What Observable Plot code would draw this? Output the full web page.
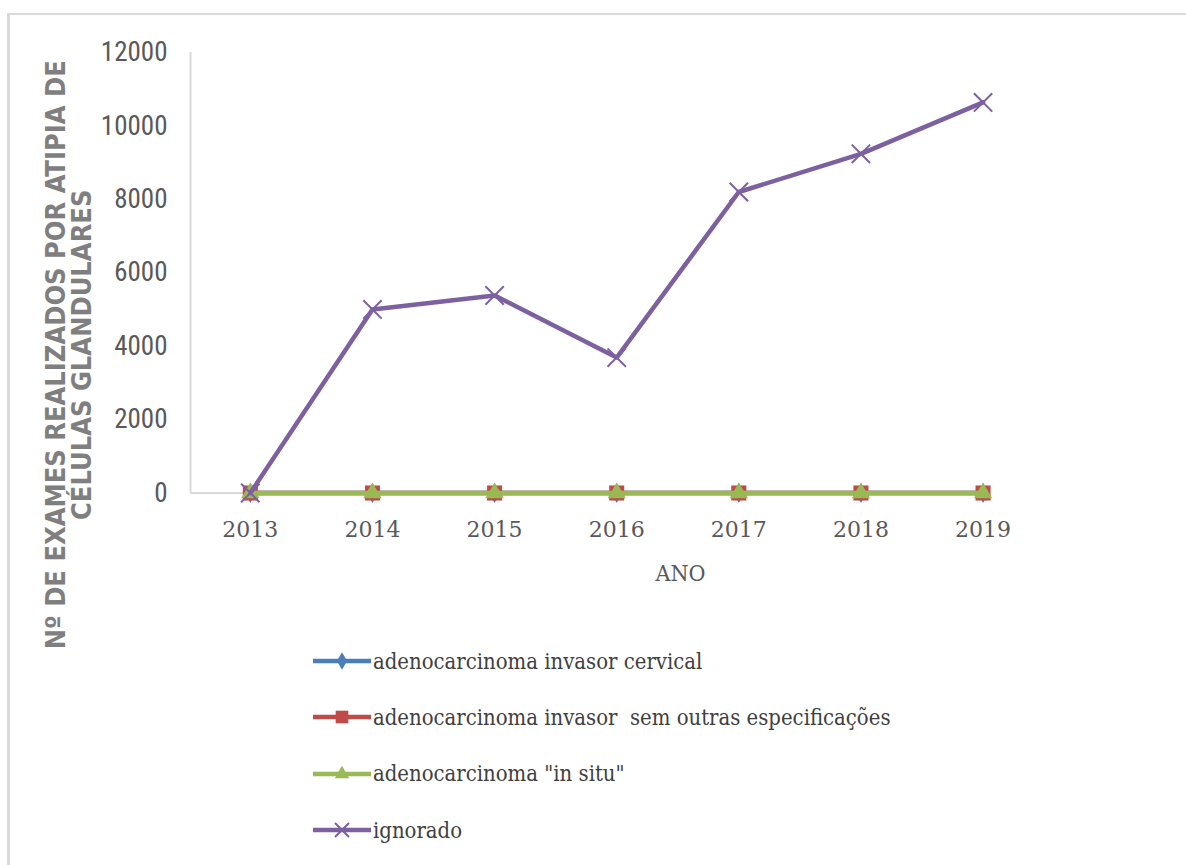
<!DOCTYPE html>
<html>
<head>
<meta charset="utf-8">
<script src="https://cdn.jsdelivr.net/npm/d3@7"></script>
<script src="https://cdn.jsdelivr.net/npm/@observablehq/plot@0.6"></script>
<style>
  html, body { margin: 0; padding: 0; background: #fff; overflow: hidden; }
  #wrap { position: relative; width: 1186px; height: 865px; }
  #border { position: absolute; left: 7px; top: 13px; width: 1200px; height: 900px;
            border-left: 3px solid #d9d9d9; border-top: 2px solid #d9d9d9; box-sizing: border-box; }
  #chart { position: absolute; left: 0; top: 0; }
  #legend { position: absolute; left: 313px; top: 633px; }
  .item { display: flex; align-items: center; height: 56.3px; }
  .item span { font-family: "DejaVu Serif Condensed", "DejaVu Serif", serif; font-size: 21.9px; color: #404040; white-space: pre; margin-left: 2px; }
</style>
</head>
<body>
<div id="wrap">
  <div id="border"></div>
  <div id="chart"></div>
  <div id="legend"></div>
</div>
<script>
const years = [2013, 2014, 2015, 2016, 2017, 2018, 2019];
const seriesNames = [
  "adenocarcinoma invasor cervical",
  "adenocarcinoma invasor  sem outras especificações",
  "adenocarcinoma \"in situ\"",
  "ignorado"
];
const cervical   = [0, 0, 0, 0, 0, 0, 0];
const semOutras  = [0, 0, 0, 0, 0, 0, 0];
const inSitu     = [0, 0, 0, 0, 0, 0, 0];
const ignorado   = [0, 5000, 5380, 3690, 8200, 9240, 10640];
const yTicks = [0, 2000, 4000, 6000, 8000, 10000, 12000];
const xDomain = [2012.51, 2019.02];
const yDomain = [0, 12000];
const colors = ["#4a7ebb", "#be4b48", "#98b954", "#7d60a0"];
const symbols = ["diamond", "square", "triangle", "times"];
const yTitle = "Nº DE EXAMES REALIZADOS POR ATIPIA DE\nCÉLULAS GLANDULARES";
const xTitle = "ANO";

const seriesValues = [cervical, semOutras, inSitu, ignorado];
const table = [];
seriesNames.forEach((s, i) => years.forEach((y, j) => table.push({series: s, year: y, value: seriesValues[i][j]})));

const markSizes = [6, 8.5, 6.8, 8.4];

const seriesMarks = [];
seriesNames.forEach((s, i) => {
  const d = table.filter(r => r.series === s);
  seriesMarks.push(Plot.line(d, {x: "year", y: "value", stroke: colors[i], strokeWidth: 4.5}));
  if (symbols[i] === "times") {
    seriesMarks.push(Plot.dot(d, {x: "year", y: "value", symbol: "times", stroke: colors[i], strokeWidth: 2, r: markSizes[i]}));
  } else {
    seriesMarks.push(Plot.dot(d, {x: "year", y: "value", symbol: symbols[i], fill: colors[i], stroke: "none", r: markSizes[i]}));
  }
});

const chart = Plot.plot({
  width: 1186,
  height: 620,
  marginLeft: 190,
  marginRight: 201,
  marginTop: 52,
  marginBottom: 127.5,
  style: {background: "transparent", overflow: "visible"},
  x: {type: "linear", domain: xDomain},
  y: {domain: yDomain},
  marks: [
    Plot.ruleX([xDomain[0]], {y1: yDomain[0], y2: yDomain[1], stroke: "#d9d9d9", strokeWidth: 2}),
    Plot.ruleY([0], {x1: xDomain[0], x2: xDomain[1], stroke: "#d9d9d9", strokeWidth: 2}),
    Plot.axisY(yTicks, {tickSize: 0, tickPadding: 23, tickFormat: d3.format("d"), label: null,
      fontSize: 27, fontFamily: "'Liberation Sans Narrow', 'Roboto Condensed', 'DejaVu Sans Condensed', sans-serif", fill: "#595959"}),
    Plot.axisX(years, {tickSize: 0, tickPadding: 28.5, tickFormat: d => String(d), label: null,
      fontSize: 22, fontFamily: "'DejaVu Serif', serif", fill: "#595959"}),
    Plot.text([yTitle], {text: d => d, frameAnchor: "left", dx: -121, dy: 82, rotate: -90,
      fontSize: 27, fontWeight: "bold", fontFamily: "'DejaVu Sans Condensed', 'DejaVu Sans', sans-serif",
      fill: "#7f7f7f", lineHeight: 0.97, textAnchor: "middle"}),
    Plot.text([xTitle], {text: d => d, frameAnchor: "bottom", dx: 92.5, dy: 88,
      fontSize: 23, fontFamily: "'DejaVu Serif Condensed', 'DejaVu Serif', serif", fill: "#595959"}),
    ...seriesMarks
  ]
});
document.getElementById("chart").appendChild(chart);

// legend
const legend = d3.select("#legend");
seriesNames.forEach((s, i) => {
  const item = legend.append("div").attr("class", "item");
  const svg = item.append("svg").attr("width", 58).attr("height", 24);
  svg.append("line").attr("x1", 0).attr("x2", 58).attr("y1", 12).attr("y2", 12)
    .attr("stroke", colors[i]).attr("stroke-width", 4.5);
  const symMap = {diamond: d3.symbolDiamond, square: d3.symbolSquare, triangle: d3.symbolTriangle, times: d3.symbolTimes};
  const sizes = [90, 160, 90, 130];
  const p = svg.append("path").attr("transform", "translate(29,12)")
    .attr("d", d3.symbol(symMap[symbols[i]], sizes[i])());
  if (symbols[i] === "times") p.attr("fill", "none").attr("stroke", colors[i]).attr("stroke-width", 2);
  else p.attr("fill", colors[i]);
  item.append("span").text(s);
});
</script>
</body>
</html>
